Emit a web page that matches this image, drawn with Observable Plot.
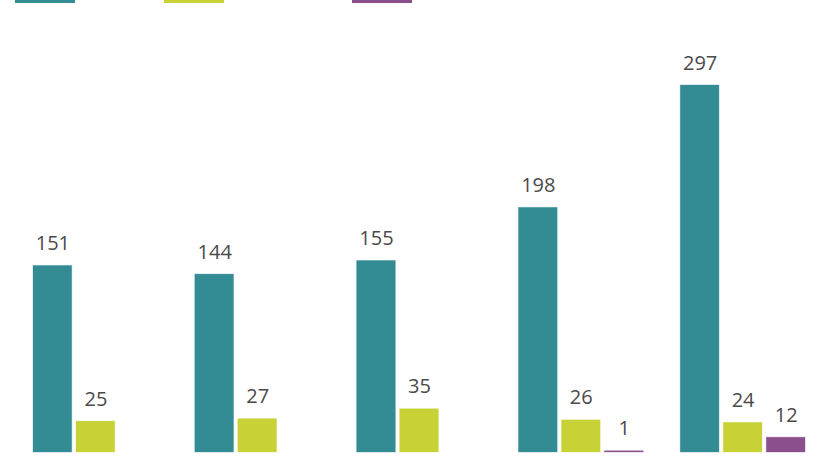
<!DOCTYPE html>
<html>
<head>
<meta charset="utf-8">
<script src="https://cdn.jsdelivr.net/npm/d3@7"></script>
<script src="https://cdn.jsdelivr.net/npm/@observablehq/plot@0.6"></script>
<style>
  html, body { margin: 0; padding: 0; background: #fff; overflow: hidden; }
  #wrap { position: relative; width: 828px; height: 468px; }
  #legend { position: absolute; top: -9px; left: 15px; display: flex; }
  .item { display: flex; align-items: center; }
  .sw { width: 60px; height: 12px; }
</style>
</head>
<body>
<div id="wrap">
  <div id="chart"></div>
  <div id="legend"></div>
</div>
<script>
const groups = ["G1", "G2", "G3", "G4", "G5"];
const seriesNames = ["Series 1", "Series 2", "Series 3"];
const seriesColors = ["#338c94", "#c8d136", "#8b4f8c"];
const series1 = [151, 144, 155, 198, 297];
const series2 = [25, 27, 35, 26, 24];
const series3 = [null, null, null, 1, 12];

const allSeries = [series1, series2, series3];
const data = [];
groups.forEach((g, i) => {
  allSeries.forEach((vals, s) => {
    if (vals[i] != null) data.push({group: g, series: seriesNames[s], value: vals[i]});
  });
});

const chart = Plot.plot({
  width: 828,
  height: 468,
  marginLeft: 33,
  marginRight: 23,
  marginTop: 85,
  marginBottom: 16,
  fx: {domain: groups, paddingInner: 0.229, paddingOuter: 0, round: false, axis: null},
  x: {domain: seriesNames, paddingInner: 0.1, paddingOuter: 0, round: false, axis: null},
  y: {domain: [0, 297], axis: null},
  color: {domain: seriesNames, range: seriesColors},
  marks: [
    Plot.barY(data, {fx: "group", x: "series", y: "value", fill: "series", stroke: "series", strokeOpacity: 0.35, strokeWidth: 1}),
    Plot.text(data, {fx: "group", x: "series", y: "value", text: d => String(d.value), lineAnchor: "bottom", dy: -16, fill: "#4a4a4a", fontSize: 20, fontFamily: "Open Sans, sans-serif"})
  ],
  style: {background: "#fff"}
});
document.getElementById("chart").appendChild(chart);

const legend = document.getElementById("legend");
const itemWidths = [149, 188, 200];
seriesNames.forEach((name, i) => {
  const it = document.createElement("div");
  it.className = "item";
  it.style.width = itemWidths[i] + "px";
  it.title = name;
  const sw = document.createElement("div");
  sw.className = "sw";
  sw.style.background = seriesColors[i];
  it.appendChild(sw);
  legend.appendChild(it);
});
</script>
</body>
</html>
